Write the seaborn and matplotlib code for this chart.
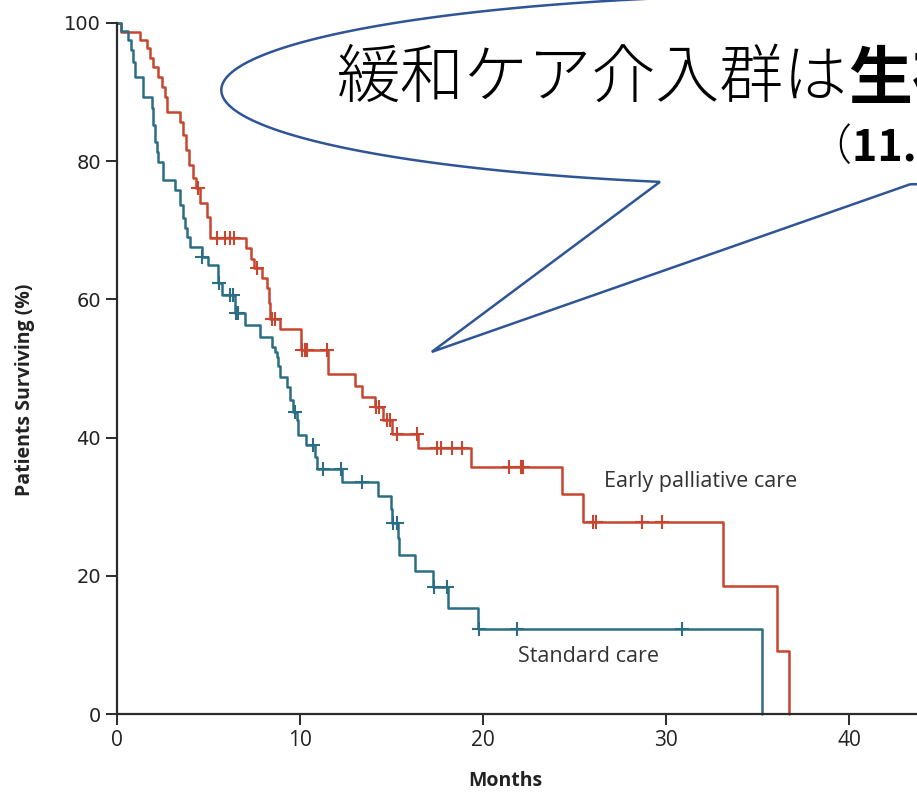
import numpy as np
import pandas as pd
import matplotlib
matplotlib.use("Agg")
import matplotlib.pyplot as plt
import seaborn as sns
from matplotlib.patches import Polygon

# Kaplan-Meier steps (months, % surviving)
early_months = [0, 0.22, 1.26, 1.64, 1.80, 1.97, 2.24, 2.46, 2.60, 2.73,
                3.44, 3.61, 3.77, 3.93, 4.15, 4.32, 4.54, 4.92, 5.08,
                7.05, 7.32, 7.50, 7.92, 8.20, 8.28, 8.36, 8.91,
                10.05, 11.53, 13.0, 13.39, 14.1, 14.54, 15.03, 16.45,
                19.34, 24.32, 25.46, 33.11, 36.07, 36.72]
early_surv = [100, 98.7, 97.5, 96.4, 94.9, 93.6, 92.2, 90.7, 89.3, 87.1,
              85.7, 83.8, 81.6, 79.5, 77.6, 76.1, 73.9, 71.9, 68.9,
              67.4, 65.9, 64.5, 63.1, 61.6, 59.5, 57.2, 55.7,
              52.7, 49.2, 47.5, 45.9, 44.4, 42.5, 40.5, 38.5,
              35.7, 31.8, 27.8, 18.5, 9.1, 0]
early_censor = [4.43, 5.47, 5.9, 6.17, 6.4, 7.65, 8.47, 8.63, 10.1, 10.25,
                10.4, 11.45, 14.15, 14.3, 14.75, 14.92, 15.3, 16.4, 17.5,
                17.7, 18.3, 18.85, 21.4, 22.1, 22.2, 26.0, 26.15, 28.7, 29.8]

standard_months = [0, 0.22, 0.60, 0.77, 0.87, 0.98, 1.42, 1.91, 1.97, 2.08,
                   2.19, 2.24, 2.51, 3.17, 3.44, 3.61, 3.72, 3.83, 3.99, 4.64,
                   4.97, 5.52, 5.74, 6.45, 6.99, 7.81, 8.47, 8.63, 8.74, 8.80,
                   8.91, 9.29, 9.45, 9.62, 9.84, 9.89, 10.33, 10.82, 10.93, 12.30,
                   14.26, 14.97, 15.03, 15.36, 15.41, 16.28, 17.27, 18.09, 19.73, 35.25]
standard_surv = [100, 98.9, 97.5, 96.1, 94.4, 92.2, 89.3, 87.7, 85.2, 82.8,
                 81.3, 79.9, 77.3, 75.8, 73.7, 71.8, 70.3, 69.0, 67.6, 66.1,
                 65.0, 62.4, 60.6, 58.0, 56.3, 54.6, 53.1, 52.4, 51.7, 50.3,
                 48.8, 47.3, 45.4, 43.7, 42.5, 40.4, 38.9, 37.2, 35.5, 33.6,
                 31.5, 29.7, 27.6, 25.5, 23.0, 20.7, 18.4, 15.3, 12.3, 0]
standard_censor = [4.66, 5.55, 6.17, 6.34, 6.48, 6.61, 9.73, 10.7, 11.26, 12.24,
                   13.4, 15.08, 15.3, 17.3, 18.03, 19.76, 21.86, 30.87]

groups = ["Early palliative care", "Standard care"]
colors = {"Early palliative care": "#C8452F", "Standard care": "#2A6D85"}
x_ticks = [0, 10, 20, 30, 40]
y_ticks = [0, 20, 40, 60, 80, 100]

df = pd.concat([
    pd.DataFrame({"month": early_months, "surv": early_surv, "group": groups[0]}),
    pd.DataFrame({"month": standard_months, "surv": standard_surv, "group": groups[1]}),
])


def surv_at(months, surv, t):
    idx = np.searchsorted(months, t, side="right") - 1
    return np.array(surv)[idx]


sns.set_style("white")
plt.rcParams["font.family"] = ["Noto Sans CJK JP", "DejaVu Sans"]

fig = plt.figure(figsize=(9.17, 7.92), dpi=100)
ax = fig.add_axes([117 / 917, 78 / 792, 800 / 917, 691 / 792])

sns.lineplot(data=df, x="month", y="surv", hue="group", palette=colors,
             drawstyle="steps-post", estimator=None, sort=False,
             linewidth=1.8, legend=False, ax=ax, clip_on=False)

for months, surv, cens, g in [(early_months, early_surv, early_censor, groups[0]),
                              (standard_months, standard_surv, standard_censor, groups[1])]:
    ax.plot(cens, surv_at(months, surv, cens), ls="none", marker="+",
            ms=10, mew=1.5, color=colors[g], clip_on=False)

ax.set_xlim(0, 800 / 18.3)
ax.set_ylim(0, 100)
ax.set_xticks(x_ticks)
ax.set_yticks(y_ticks)
sns.despine(ax=ax)
for s in ["left", "bottom"]:
    ax.spines[s].set_linewidth(1.6)
    ax.spines[s].set_color("#2b2b2b")
ax.tick_params(axis="both", direction="out", length=8, width=1.4, color="#2b2b2b",
               left=True, bottom=True)
for lab in ax.get_yticklabels():
    lab.set_fontfamily(["DejaVu Sans"])
    lab.set_fontsize(14)
    lab.set_color("#222222")
for lab in ax.get_xticklabels():
    lab.set_fontfamily(["Open Sans"])
    lab.set_fontsize(15)
    lab.set_color("#222222")

ax.set_xlabel("Months", fontsize=14, fontweight="bold", color="#222222",
              family=["Open Sans"])
ax.set_ylabel("Patients Surviving (%)", fontsize=14, fontweight="bold", color="#222222",
              family=["Open Sans"])
ax.xaxis.set_label_coords(0.485, -0.083)
ax.yaxis.set_label_coords(-0.103, 0.469)

ax.text(26.6, 33.7, "Early palliative care", fontsize=15.5, color="#333333",
        va="center", ha="left", family=["Open Sans"])
ax.text(21.9, 8.3, "Standard care", fontsize=15.5, color="#333333",
        va="center", ha="left", family=["Open Sans"])

# speech bubble (oval callout)
cx, cy, a, b = 38.5, 90.3, 32.8, 13.8
tip = (17.2, 52.4)
t1 = -np.arccos((29.67 - cx) / a)
t2 = -np.arccos((43.33 - cx) / a)
tt = np.linspace(t2, t1 + 2 * np.pi, 400)
pts = np.column_stack([cx + a * np.cos(tt), cy + b * np.sin(tt)])
pts = np.vstack([pts, tip])
bubble = Polygon(pts, closed=True, facecolor="white", edgecolor="#2F5597",
                 linewidth=1.8, clip_on=False, zorder=5)
ax.add_patch(bubble)

t_main = ax.text(12.0, 91.8, "緩和ケア介入群は", fontsize=46, color="black",
                 fontweight="light", va="center", ha="left", zorder=6, clip_on=False)
ax.annotate("生存", xy=(1, 0), xycoords=t_main, va="bottom", ha="left",
            fontsize=46, fontweight="bold", color="black", zorder=6)
t_sub = ax.text(37.8, 82.0, "（", fontsize=31, color="black", fontweight="light",
                va="center", ha="left", zorder=6, clip_on=False)
ax.annotate("11.6ヶ月 vs 8.9ヶ月）", xy=(1, 0), xycoords=t_sub, va="bottom", ha="left",
            fontsize=31, fontweight="bold", color="black", zorder=6)

fig.savefig("out.png", dpi=100)
